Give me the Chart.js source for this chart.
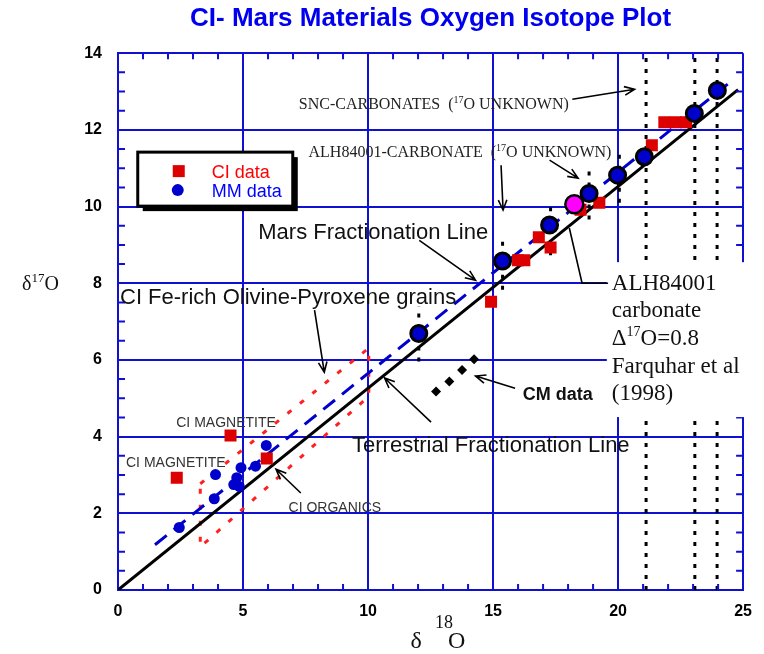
<!DOCTYPE html>
<html>
<head>
<meta charset="utf-8">
<title>CI- Mars Materials Oxygen Isotope Plot</title>
<script src="https://cdn.jsdelivr.net/npm/chart.js@4.4.0/dist/chart.umd.min.js"></script>
<style>
  html, body { margin: 0; padding: 0; background: #fff; }
  canvas { display: block; }
</style>
</head>
<body>
<canvas id="isoChart" width="764" height="654"></canvas>
<script>
// valeurs : [delta18O, delta17O]
const ciPoints = [
  [2.35, 2.93], [4.5, 4.03], [5.95, 3.43], [14.92, 7.52],
  [16.0, 8.6], [16.25, 8.6], [16.83, 9.2], [17.3, 8.93],
  [18.5, 9.92], [19.25, 10.1], [21.35, 11.6],
  [21.85, 12.2], [22.3, 12.2], [22.72, 12.2]
];
const mmLarge = [
  [12.03, 6.69], [15.38, 8.58], [17.26, 9.52], [18.84, 10.34],
  [19.98, 10.82], [21.05, 11.3], [23.05, 12.43], [23.97, 13.03]
];
const mmSmall = [
  [2.45, 1.63], [3.85, 2.38], [3.9, 3.01], [4.63, 2.75], [4.75, 2.93],
  [4.85, 2.7], [4.92, 3.19], [5.5, 3.23], [5.93, 3.77]
];
const alhCarbonate = [[18.25, 10.06]];
const cmPoints = [[12.72, 5.18], [13.25, 5.44], [13.76, 5.74], [14.24, 6.02]];

// droites de fractionnement
const terrestrialLine = [[0, 0], [24.8, 13.05]];
const marsLine = [[1.48, 1.18], [24.64, 13.33]];
// zone des grains olivine-pyroxene riches en Fe (pointillé rouge)
const olivineZone = [[3.29, 2.77], [10.03, 6.31], [10.03, 5.05], [3.29, 1.12], [3.29, 2.77]];
// barres verticales pointillées : [x, bas, haut]
const errorBars = [
  [12.03, 5.96, 7.4], [15.38, 7.83, 9.18], [17.3, 8.73, 10.09],
  [18.84, 9.66, 10.97], [20.05, 10.1, 11.5],
  [21.12, 0, 14], [23.07, 0, 14], [23.96, 0, 14]
];

// axes
const xRange = [0, 25];
const yRange = [0, 14];
const xMajorStep = 5;
const yMajorStep = 2;

const BLUE = '#1010d0';
const SANS = '"Liberation Sans", Arial, sans-serif';
const SERIF = '"Liberation Serif", "Times New Roman", serif';

const toXY = arr => arr.map(p => ({ x: p[0], y: p[1] }));

function lineSet(points, color, width, dash) {
  return {
    data: toXY(points), showLine: true, pointRadius: 0,
    borderColor: color, borderWidth: width, borderDash: dash || [],
    backgroundColor: color, fill: false, tension: 0
  };
}

// texte avec exposants
function richText(ctx, x, y, parts, color) {
  let cx = x;
  ctx.fillStyle = color;
  ctx.textBaseline = 'alphabetic';
  ctx.textAlign = 'left';
  parts.forEach(p => {
    ctx.font = p.font;
    ctx.fillText(p.text, cx, y - (p.rise || 0));
    cx += ctx.measureText(p.text).width;
  });
}

function arrow(ctx, x1, y1, x2, y2) {
  const ang = Math.atan2(y2 - y1, x2 - x1);
  const len = 11;
  ctx.beginPath();
  ctx.moveTo(x1, y1);
  ctx.lineTo(x2, y2);
  ctx.moveTo(x2 - len * Math.cos(ang - 0.4), y2 - len * Math.sin(ang - 0.4));
  ctx.lineTo(x2, y2);
  ctx.lineTo(x2 - len * Math.cos(ang + 0.4), y2 - len * Math.sin(ang + 0.4));
  ctx.stroke();
}

const decorPlugin = {
  id: 'decor',
  afterDraw(chart) {
    const { ctx, chartArea: a, scales: { x, y } } = chart;
    const px = v => x.getPixelForValue(v);
    const py = v => y.getPixelForValue(v);
    ctx.save();

    // petites graduations intérieures
    ctx.strokeStyle = BLUE;
    ctx.lineWidth = 2;
    ctx.beginPath();
    x.ticks.forEach(t => {
      if (t.value % xMajorStep === 0) return;
      const p = px(t.value);
      ctx.moveTo(p, a.bottom); ctx.lineTo(p, a.bottom - 6);
      ctx.moveTo(p, a.top); ctx.lineTo(p, a.top + 6);
    });
    y.ticks.forEach(t => {
      if (t.value % yMajorStep === 0) return;
      const p = py(t.value);
      ctx.moveTo(a.left, p); ctx.lineTo(a.left + 7, p);
      ctx.moveTo(a.right, p); ctx.lineTo(a.right - 7, p);
    });
    ctx.stroke();

    // légende encadrée avec ombre
    const lx = px(0.79), ly = py(11.42), lw = 155, lh = 54;
    ctx.fillStyle = '#000';
    ctx.fillRect(lx + 5, ly + 5, lw, lh);
    ctx.fillStyle = '#fff';
    ctx.fillRect(lx, ly, lw, lh);
    ctx.strokeStyle = '#000';
    ctx.lineWidth = 3;
    ctx.strokeRect(lx, ly, lw, lh);
    ctx.fillStyle = '#dd0000';
    ctx.fillRect(lx + 35, ly + 13, 12, 12);
    ctx.fillStyle = '#0000cc';
    ctx.beginPath(); ctx.arc(lx + 40, ly + 38, 6, 0, Math.PI * 2); ctx.fill();
    ctx.font = '18px ' + SANS;
    ctx.fillStyle = '#ff0000';
    ctx.fillText('CI data', lx + 74, ly + 26);
    ctx.fillStyle = '#0000ff';
    ctx.fillText('MM data', lx + 74, ly + 45);

    // cadre blanc ALH84001
    const bx = px(19.55), by = py(8.55), bb = py(4.51);
    ctx.fillStyle = '#fff';
    ctx.fillRect(bx, by, chart.width - bx, bb - by);
    const big = '23px ' + SERIF, sup = '14px ' + SERIF;
    richText(ctx, bx + 5, by + 28, [{ text: 'ALH84001', font: big }], '#111');
    richText(ctx, bx + 5, by + 55, [{ text: 'carbonate', font: big }], '#111');
    richText(ctx, bx + 5, by + 83, [
      { text: '\u0394', font: big }, { text: '17', font: sup, rise: 9 },
      { text: 'O=0.8', font: big }], '#111');
    richText(ctx, bx + 5, by + 111, [{ text: 'Farquhar et al', font: big }], '#111');
    richText(ctx, bx + 5, by + 138, [{ text: '(1998)', font: big }], '#111');

    // annotations
    const s16 = '16px ' + SERIF, s10 = '10px ' + SERIF;
    richText(ctx, px(7.23), py(12.54), [
      { text: 'SNC-CARBONATES  (', font: s16 }, { text: '17', font: s10, rise: 6 },
      { text: 'O UNKNOWN)', font: s16 }], '#222');
    richText(ctx, px(7.62), py(11.29), [
      { text: 'ALH84001-CARBONATE  (', font: s16 }, { text: '17', font: s10, rise: 6 },
      { text: 'O UNKNOWN)', font: s16 }], '#222');

    const a22 = '22px ' + SANS;
    richText(ctx, px(5.61), py(9.15), [{ text: 'Mars Fractionation Line', font: a22 }], '#111');
    richText(ctx, px(0.08), py(7.47), [{ text: 'CI Fe-rich Olivine-Pyroxene grains', font: a22 }], '#111');
    richText(ctx, px(9.36), py(3.61), [{ text: 'Terrestrial Fractionation Line', font: a22 }], '#111');
    richText(ctx, px(16.19), py(4.95), [{ text: 'CM data', font: 'bold 18px ' + SANS }], '#111');

    const a14 = '14px ' + SANS;
    richText(ctx, px(2.33), py(4.26), [{ text: 'CI MAGNETITE', font: a14 }], '#333');
    richText(ctx, px(0.32), py(3.2), [{ text: 'CI MAGNETITE', font: a14 }], '#333');
    richText(ctx, px(6.82), py(2.03), [{ text: 'CI ORGANICS', font: a14 }], '#333');

    ctx.strokeStyle = '#000';
    ctx.lineWidth = 1.6;
    const arrows = [
      [18.17, 12.8, 20.66, 13.06],
      [15.32, 11.08, 15.4, 9.91],
      [17.26, 11.21, 18.4, 10.74],
      [12.05, 9.12, 14.3, 8.08],
      [7.86, 7.3, 8.25, 5.68],
      [12.52, 4.38, 10.66, 5.53],
      [15.88, 5.26, 14.3, 5.58],
      [7.31, 2.53, 6.32, 3.15]
    ];
    arrows.forEach(r => arrow(ctx, px(r[0]), py(r[1]), px(r[2]), py(r[3])));
    // trait de rappel vers le cadre ALH84001
    ctx.beginPath();
    ctx.moveTo(px(18.05), py(9.44));
    ctx.lineTo(px(18.56), py(8.0));
    ctx.lineTo(px(19.6), py(8.0));
    ctx.stroke();

    // titres des axes
    richText(ctx, a.left - 96, 290, [
      { text: '\u03b4', font: '20px ' + SERIF }, { text: '17', font: '13px ' + SERIF, rise: 8 },
      { text: 'O', font: '20px ' + SERIF }], '#111');
    richText(ctx, px(11.7), 648, [{ text: '\u03b4', font: '24px ' + SERIF }], '#111');
    richText(ctx, px(12.68), 628, [{ text: '18', font: '18px ' + SERIF }], '#111');
    richText(ctx, px(13.2), 648, [{ text: 'O', font: '24px ' + SERIF }], '#111');

    ctx.restore();
  }
};

const datasets = [
  { data: toXY(alhCarbonate), pointStyle: 'circle', pointRadius: 9,
    backgroundColor: '#ff00ff', borderColor: '#000', borderWidth: 2.5 },
  { data: toXY(mmLarge), pointStyle: 'circle', pointRadius: 8,
    backgroundColor: '#0000cc', borderColor: '#000', borderWidth: 3 },
  { data: toXY(mmSmall), pointStyle: 'circle', pointRadius: 5.5,
    backgroundColor: '#0000cc', borderWidth: 0 },
  { data: toXY(ciPoints), pointStyle: 'rect', pointRadius: 8.5,
    backgroundColor: '#dd0000', borderWidth: 0 },
  { data: toXY(cmPoints), pointStyle: 'rectRot', pointRadius: 5,
    backgroundColor: '#000', borderWidth: 0 },
  lineSet(terrestrialLine, '#000', 3),
  lineSet(marsLine, '#0000cc', 3, [15, 9]),
  lineSet(olivineZone, '#ff2020', 3, [5, 11])
];
errorBars.forEach(b => datasets.push(lineSet([[b[0], b[1]], [b[0], b[2]]], '#000', 3, [4, 7])));

new Chart(document.getElementById('isoChart'), {
  type: 'scatter',
  data: { datasets: datasets },
  options: {
    responsive: false,
    animation: false,
    events: [],
    layout: { padding: { top: 0, right: 13, bottom: 0, left: 0 } },
    plugins: {
      legend: { display: false },
      tooltip: { enabled: false },
      title: {
        display: true, fullSize: false,
        text: 'CI- Mars Materials Oxygen Isotope Plot',
        color: '#0000ee',
        font: { family: SANS, size: 26, weight: 'bold' },
        padding: { top: 3, bottom: 19 }
      }
    },
    scales: {
      x: {
        type: 'linear', min: xRange[0], max: xRange[1],
        ticks: {
          stepSize: 1, autoSkip: false, maxRotation: 0, padding: 12, color: '#000',
          font: { family: SANS, size: 16, weight: 'bold' },
          callback: v => (v % xMajorStep === 0 ? v : '')
        },
        grid: {
          color: c => (c.tick && c.tick.value % xMajorStep === 0 ? BLUE : 'rgba(0,0,0,0)'),
          lineWidth: 2, drawTicks: false
        },
        border: { color: BLUE, width: 2 },
        afterFit: s => { s.height = 64; }
      },
      y: {
        type: 'linear', min: yRange[0], max: yRange[1],
        ticks: {
          stepSize: 0.5, autoSkip: false, padding: 16, color: '#000',
          font: { family: SANS, size: 16, weight: 'bold' },
          callback: v => (v % yMajorStep === 0 ? v : '')
        },
        grid: {
          color: c => (c.tick && c.tick.value % yMajorStep === 0 ? BLUE : 'rgba(0,0,0,0)'),
          lineWidth: 2, drawTicks: false
        },
        border: { color: BLUE, width: 2 },
        afterFit: s => { s.width = 118; }
      }
    }
  },
  plugins: [decorPlugin]
});
</script>
</body>
</html>
